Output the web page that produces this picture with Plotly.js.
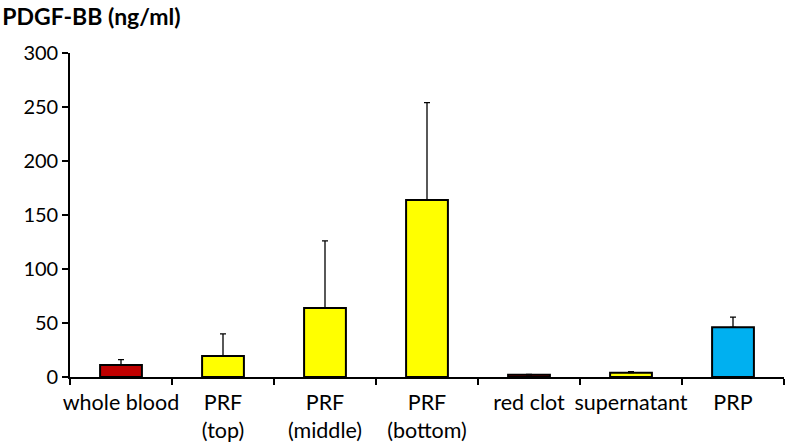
<!DOCTYPE html>
<html><head><meta charset="utf-8">
<script src="https://cdn.plot.ly/plotly-3.0.1.min.js"></script>
<style>body{margin:0;background:#fff}#c{width:786px;height:442px}</style>
</head><body><div id="c"></div>
<script>
const categories = ["whole blood", "PRF<br>(top)", "PRF<br>(middle)", "PRF<br>(bottom)", "red clot", "supernatant", "PRP"];
const values = [11, 19.5, 64, 164, 2, 4, 46];
const errors = [5, 20.5, 62, 90, 0.5, 1, 9.5];
const barColors = ["#C00000", "#FFFF00", "#FFFF00", "#FFFF00", "#C00000", "#FFFF00", "#00B0F0"];
const yTicks = [0, 50, 100, 150, 200, 250, 300];

const trace = {
  type: "bar", x: categories, y: values, width: 0.41,
  marker: {color: barColors, line: {color: "#000", width: 2}},
  error_y: {type: "data", symmetric: false, array: errors, arrayminus: errors.map(() => 0),
            color: "#000", thickness: 1.3, width: 3},
  hoverinfo: "none"
};
const layout = {
  width: 786, height: 442,
  margin: {l: 70, r: 2, t: 53, b: 65},
  paper_bgcolor: "#fff", plot_bgcolor: "#fff",
  font: {family: "Lato, 'Open Sans', sans-serif", size: 20, color: "#000"},
  showlegend: false, bargap: 0.59,
  title: {text: "<b>PDGF-BB (ng/ml)</b>", xref: "container", yref: "container",
          x: 0.003, xanchor: "left", y: 0.962, yanchor: "middle",
          font: {size: 23, color: "#000", family: "Lato, 'Open Sans', sans-serif"}},
  xaxis: {type: "category", showline: true, linecolor: "#000", linewidth: 1.8,
          ticks: "outside", tickson: "boundaries", ticklen: 6, tickwidth: 1.5, tickcolor: "#000",
          tickangle: 0, automargin: false, ticklabelstandoff: 5,
          showgrid: false, zeroline: false, fixedrange: true, tickfont: {size: 21.5}},
  yaxis: {range: [0, 300], tickvals: yTicks, showline: true, linecolor: "#000", linewidth: 1.8,
          ticks: "outside", ticklen: 6, tickwidth: 1.5, tickcolor: "#000",
          showgrid: false, zeroline: false, fixedrange: true, tickfont: {size: 20}}
};
Plotly.newPlot("c", [trace], layout, {displayModeBar: false, staticPlot: true});
</script></body></html>
